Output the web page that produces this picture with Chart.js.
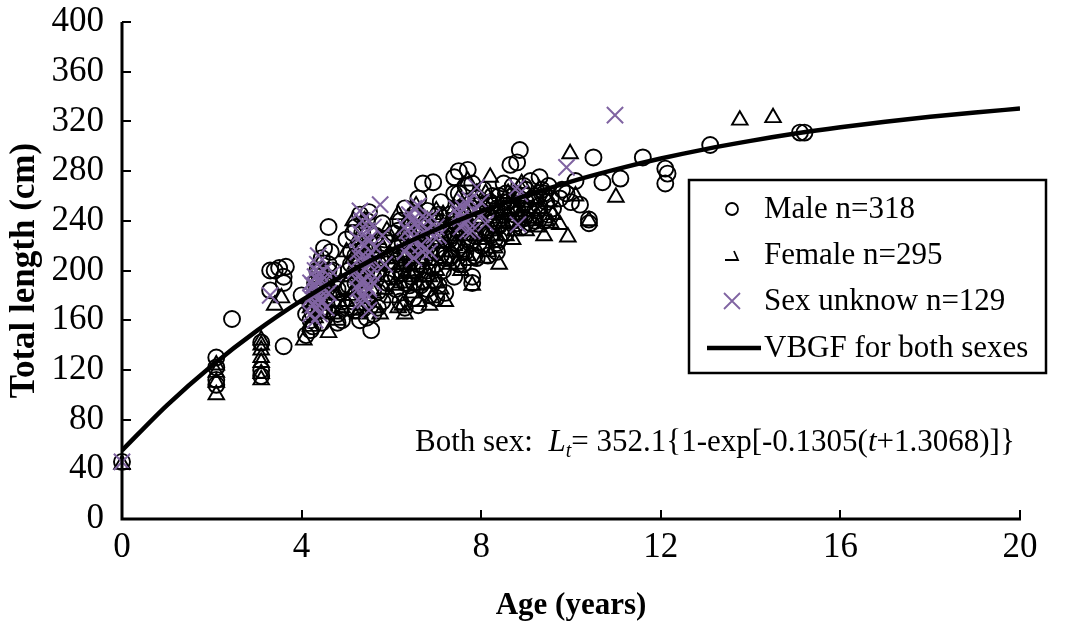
<!DOCTYPE html>
<html>
<head>
<meta charset="utf-8">
<script src="https://cdn.jsdelivr.net/npm/chart.js@4/dist/chart.umd.min.js"></script>
<style>
  html, body { margin: 0; padding: 0; background: #fff; }
  #wrap { width: 1068px; height: 634px; }
</style>
</head>
<body>
<div id="wrap"><canvas id="chart" width="1068" height="634"></canvas></div>
<script>
// values (age in years, total length in cm)
const maleAge = [
  0, 2.1, 2.1, 2.1, 2.1, 2.45, 3.1, 3.1, 3.1,
  3.3, 3.4, 3.5, 3.6, 3.6, 3.65, 3.3, 3.6,
  4.1, 4.2, 4.2, 4.25, 4.3, 4.3, 4.35, 4.4, 4.4, 4.45, 4.5, 4.6, 4.6, 4.6, 4.55, 4.7, 4.7, 4.8, 4.8, 4.9, 4.5, 4.5, 4.0, 4.1, 4.4, 4.65, 4.2,
  4.3, 4.4, 4.5, 4.6, 4.7, 4.8, 4.9, 4.25, 4.45, 4.35,
  5.0, 5.0, 5.05, 5.1, 5.1, 5.15, 5.2, 5.2, 5.25, 5.3, 5.3, 5.35, 5.4, 5.4, 5.45, 5.5, 5.5, 5.5, 5.55, 5.6, 5.6, 5.65, 5.7, 5.7, 5.75, 5.8, 5.85, 5.9, 5.9, 5.0, 5.2, 5.3, 5.6, 5.8,
  5.2, 5.25, 5.3, 5.35, 5.4, 5.45, 5.5, 5.55, 5.3, 5.4, 5.15, 5.6, 5.05, 5.45, 5.7,
  6.0, 6.0, 6.05, 6.1, 6.1, 6.15, 6.2, 6.2, 6.25, 6.3, 6.3, 6.35, 6.4, 6.4, 6.45, 6.5, 6.5, 6.55, 6.6, 6.6, 6.65, 6.7, 6.7, 6.75, 6.8, 6.8, 6.85, 6.9, 6.93, 7.0, 7.0, 7.05, 7.1, 7.1, 7.15, 7.2, 7.2, 6.3, 6.6, 7.0,
  6.1, 6.15, 6.2, 6.25, 6.3, 6.35, 6.4, 6.45, 6.5, 6.55, 6.6, 6.65, 6.7, 6.75, 6.8, 6.85, 6.9, 6.95, 7.0, 7.05, 7.1, 7.15, 6.2, 6.5, 6.8, 7.2,
  7.3, 7.3, 7.35, 7.4, 7.4, 7.45, 7.5, 7.5, 7.55, 7.6, 7.6, 7.65, 7.7, 7.7, 7.75, 7.8, 7.8, 7.85, 7.9, 7.9, 8.0, 8.0, 8.05, 8.1, 8.15, 8.2, 8.25, 8.3, 8.35, 8.35, 8.4, 8.4, 7.4,
  7.3, 7.35, 7.4, 7.45, 7.5, 7.55, 7.6, 7.65, 7.7, 7.75, 7.8, 7.85, 7.9, 7.95, 8.0, 8.05, 8.1, 8.15, 8.2, 8.25, 8.3, 8.35, 8.4, 7.5, 7.8,
  8.5, 8.5, 8.55, 8.6, 8.65, 8.7, 8.75, 8.8, 8.8, 8.86, 8.9, 8.95, 9.0, 9.0, 9.1, 9.1, 9.2, 9.25, 9.3, 9.35, 9.4, 9.45, 9.5, 9.6,
  8.5, 8.55, 8.6, 8.65, 8.7, 8.75, 8.8, 8.85, 8.9, 8.95, 9.0, 9.05, 9.15, 9.2, 9.3, 9.4, 9.5, 9.55,
  9.75, 9.8, 9.9, 10.0, 10.1, 10.2, 10.4, 10.4, 10.5, 10.7, 11.1, 11.6, 12.1, 12.15, 12.1, 13.1, 15.1, 15.2
];
const maleLen = [
  46, 130, 122, 112, 108, 161, 142, 120, 115,
  184, 200, 202, 195, 190, 203, 200, 139,
  148, 152, 160, 165, 170, 178, 185, 192, 200, 210, 218, 235, 205, 200, 195, 190, 172, 165, 158, 160, 175, 168, 180, 165, 182, 215, 172,
  190, 168, 190, 180, 200, 185, 175, 155, 158, 200,
  170, 185, 200, 205, 215, 175, 168, 190, 210, 222, 245, 230, 180, 195, 240, 247, 175, 205, 152, 185, 215, 228, 198, 170, 210, 238, 225, 190, 205, 225, 235, 160, 165, 175,
  212, 195, 205, 188, 218, 200, 232, 215, 183, 170, 230, 195, 188, 162, 183,
  195, 212, 230, 185, 205, 220, 240, 175, 198, 215, 250, 230, 188, 210, 225, 245, 178, 200, 258, 218, 235, 192, 270, 210, 228, 248, 180, 202, 271, 215, 240, 188, 225, 255, 200, 235, 182, 170, 172, 178,
  195, 232, 210, 222, 190, 205, 238, 195, 215, 230, 205, 188, 220, 238, 200, 215, 230, 192, 205, 245, 212, 228, 200, 190, 185, 210,
  210, 245, 228, 262, 195, 238, 280, 218, 250, 205, 232, 268, 281, 225, 245, 195, 190, 212, 258, 238, 220, 248, 265, 232, 212, 255, 242, 225, 215, 222, 260, 236, 275,
  225, 212, 240, 222, 205, 232, 245, 215, 235, 222, 250, 228, 210, 240, 232, 250, 218, 245, 228, 260, 240, 250, 225, 262, 270,
  245, 270, 230, 255, 285, 240, 262, 287, 250, 297, 235, 268, 245, 255, 272, 238, 260, 248, 275, 265, 240, 255, 268, 250,
  255, 262, 240, 250, 268, 245, 238, 258, 250, 242, 265, 250, 258, 240, 252, 262, 245, 258,
  258, 265, 262, 255, 272, 253, 241, 238, 291, 271, 274, 291, 282, 278, 270, 301, 311, 311
];

const femaleAge = [
  0, 2.1, 2.1, 2.1, 2.1, 3.1, 3.1, 3.1, 3.1, 3.1, 3.1, 3.1, 3.4, 3.55,
  4.05, 4.2, 4.3, 4.4, 4.5, 4.6, 4.6, 4.7, 4.4, 4.2, 4.8,
  4.3, 4.5, 4.6, 4.7, 4.8, 4.9,
  5.0, 5.1, 5.15, 5.2, 5.25, 5.3, 5.35, 5.4, 5.45, 5.5, 5.55, 5.6, 5.65, 5.7, 5.8, 5.85, 5.9, 5.0, 5.25,
  5.1, 5.2, 5.3, 5.4, 5.5, 5.6, 5.7, 5.8, 5.9, 5.35, 5.15, 5.75,
  6.0, 6.05, 6.1, 6.15, 6.2, 6.25, 6.3, 6.35, 6.4, 6.45, 6.5, 6.55, 6.6, 6.6, 6.7, 6.75, 6.8, 6.85, 6.9, 7.0, 7.0, 7.1, 7.15, 7.2, 6.3,
  6.05, 6.1, 6.2, 6.25, 6.3, 6.35, 6.4, 6.45, 6.5, 6.55, 6.6, 6.65, 6.7, 6.75, 6.8, 6.85, 6.9, 6.95, 7.0, 7.05, 7.1, 7.15, 7.2, 6.15, 6.9,
  7.3, 7.35, 7.4, 7.5, 7.55, 7.6, 7.7, 7.7, 7.8, 7.85, 7.9, 8.0, 8.05, 8.1, 8.2, 8.25, 8.3, 8.35, 8.4,
  7.3, 7.35, 7.4, 7.45, 7.5, 7.55, 7.6, 7.65, 7.7, 7.75, 7.8, 7.85, 7.9, 7.95, 8.0, 8.05, 8.1, 8.15, 8.2, 8.25, 8.3, 8.35, 8.4,
  8.5, 8.6, 8.7, 8.8, 8.9, 9.0, 9.1, 9.2, 9.3, 9.4, 9.5, 9.6, 9.75, 9.93, 9.98, 10.1, 10.4, 11.0, 13.76, 14.5,
  8.5, 8.55, 8.6, 8.65, 8.7, 8.75, 8.85, 8.95, 9.05, 9.15, 9.25, 9.35, 9.45, 9.55
];
const femaleLen = [
  44, 124, 118, 110, 100, 144, 140, 136, 130, 126, 117, 112, 172, 178,
  144, 155, 162, 175, 185, 150, 195, 165, 205, 170, 180,
  178, 172, 190, 182, 160, 170,
  175, 195, 210, 185, 225, 168, 200, 240, 215, 178, 192, 230, 170, 205, 218, 185, 232, 215, 165,
  180, 205, 218, 190, 208, 182, 225, 195, 210, 172, 240, 165,
  178, 205, 222, 245, 190, 172, 212, 235, 198, 182, 228, 252, 175, 210, 240, 195, 222, 172, 208, 248, 190, 230, 215, 175, 165,
  188, 212, 228, 205, 195, 220, 240, 210, 198, 222, 188, 232, 205, 218, 240, 195, 225, 212, 200, 238, 185, 245, 222, 170, 178,
  205, 240, 220, 258, 200, 235, 212, 272, 188, 250, 228, 242, 210, 262, 275, 232, 218, 248, 205,
  228, 215, 250, 205, 232, 245, 218, 228, 240, 208, 235, 220, 262, 238, 225, 255, 230, 215, 245, 255, 235, 228, 242,
  238, 262, 225, 250, 270, 232, 258, 242, 265, 228, 255, 245, 237, 227, 294, 260, 240, 259, 321, 323,
  250, 228, 245, 238, 258, 232, 245, 255, 240, 250, 235, 248, 240, 238
];

const unknownAge = [
  0, 3.3,
  4.2, 4.25, 4.25, 4.3, 4.3, 4.35, 4.35, 4.4, 4.4, 4.45, 4.3, 4.5, 4.37, 4.6, 4.55, 4.2, 4.7,
  4.25, 4.3, 4.35, 4.4, 4.45, 4.3, 4.2, 4.4, 4.5, 4.35,
  5.2, 5.25, 5.25, 5.3, 5.3, 5.35, 5.35, 5.4, 5.4, 5.41, 5.45, 5.5, 5.5, 5.55, 5.6, 5.6, 5.65, 5.75, 5.8, 5.85, 5.3, 5.5,
  5.25, 5.3, 5.35, 5.4, 5.45, 5.5, 5.55, 5.6, 5.3, 5.4, 5.25, 5.35, 5.5, 5.45,
  6.3, 6.35, 6.4, 6.45, 6.5, 6.55, 6.6, 6.65, 6.7, 6.75, 6.85, 6.9, 7.0, 7.05, 6.5,
  6.4, 6.5, 6.6, 6.7, 6.45, 6.55, 6.8, 6.95, 6.3,
  7.5, 7.55, 7.6, 7.7, 7.75, 7.8, 7.9, 8.0, 8.1, 8.8, 8.86, 8.82, 9.9, 10.98,
  7.55, 7.65, 7.7, 7.85, 7.6, 8.0, 7.45
];
const unknownLen = [
  46, 180,
  165, 172, 180, 188, 195, 170, 205, 178, 185, 192, 160, 200, 212, 182, 170, 190, 198,
  188, 175, 182, 198, 175, 200, 178, 165, 185, 192,
  200, 215, 185, 230, 175, 205, 240, 192, 220, 176, 210, 225, 185, 198, 235, 208, 218, 253, 228, 205, 248, 168,
  195, 210, 222, 200, 232, 205, 215, 190, 190, 182, 225, 180, 240, 188,
  215, 232, 245, 225, 210, 238, 252, 220, 230, 242, 215, 243, 235, 228, 250,
  220, 232, 240, 215, 240, 225, 232, 228, 235,
  245, 235, 250, 240, 257, 232, 267, 245, 238, 267, 262, 237, 283, 325,
  242, 255, 232, 248, 238, 255, 250
];

// VBGF curve
const curveAge = [0, 1, 2, 3, 4, 5, 6, 7, 8, 9, 10, 11, 12, 13, 14, 15, 16, 17, 18, 19, 20];
const curveLen = [55.2, 91.5, 123.4, 151.4, 175.9, 197.5, 216.4, 233.0, 247.6, 260.3, 271.6, 281.4, 290.1, 297.7, 304.3, 310.2, 315.3, 319.8, 323.8, 327.2, 330.3];

const xTicks = [0, 4, 8, 12, 16, 20];
const yTicks = [0, 40, 80, 120, 160, 200, 240, 280, 320, 360, 400];

const legendLabels = ['Male n=318', 'Female n=295', 'Sex unknow n=129', 'VBGF for both sexes'];

const PURPLE = '#8064a2';
const FONT = "'Liberation Serif', 'Times New Roman', serif";

const pts = (xs, ys) => xs.map((x, i) => ({ x: x, y: ys[i] }));

// axes with inward ticks, the boxed legend and the equation
const overlay = {
  id: 'overlay',
  afterDraw(chart) {
    const ctx = chart.ctx;
    const area = chart.chartArea;
    const xs = chart.scales.x, ys = chart.scales.y;
    ctx.save();
    ctx.strokeStyle = '#000';
    ctx.lineWidth = 3;
    ctx.lineCap = 'butt';
    ctx.beginPath();
    ctx.moveTo(area.left, area.top);
    ctx.lineTo(area.left, area.bottom);
    ctx.lineTo(area.right + 1, area.bottom);
    ctx.stroke();
    ctx.lineWidth = 2;
    yTicks.forEach(v => {
      const py = Math.round(ys.getPixelForValue(v));
      ctx.beginPath();
      ctx.moveTo(area.left, py);
      ctx.lineTo(area.left + 9, py);
      ctx.stroke();
    });
    xTicks.forEach(v => {
      if (v === 0) return;
      const px = Math.round(xs.getPixelForValue(v));
      ctx.beginPath();
      ctx.moveTo(px, area.bottom);
      ctx.lineTo(px, area.bottom - 9);
      ctx.stroke();
    });

    // legend box
    const bx = 689, by = 180, bw = 357, bh = 193;
    ctx.fillStyle = '#fff';
    ctx.fillRect(bx, by, bw, bh);
    ctx.lineWidth = 2.5;
    ctx.strokeRect(bx, by, bw, bh);
    const rowY = [209, 255, 301, 348];
    const mx = 732;
    ctx.lineWidth = 1.8;
    ctx.strokeStyle = '#000';
    ctx.beginPath();
    ctx.arc(mx, rowY[0], 6, 0, Math.PI * 2);
    ctx.stroke();
    ctx.beginPath();
    ctx.moveTo(mx - 7, rowY[1] + 5);
    ctx.lineTo(mx + 6, rowY[1] + 5);
    ctx.lineTo(mx + 2, rowY[1] - 4);
    ctx.stroke();
    ctx.strokeStyle = PURPLE;
    ctx.beginPath();
    ctx.moveTo(mx - 8, rowY[2] - 8);
    ctx.lineTo(mx + 8, rowY[2] + 8);
    ctx.moveTo(mx + 8, rowY[2] - 8);
    ctx.lineTo(mx - 8, rowY[2] + 8);
    ctx.stroke();
    ctx.strokeStyle = '#000';
    ctx.lineWidth = 4.5;
    ctx.beginPath();
    ctx.moveTo(707, rowY[3]);
    ctx.lineTo(761, rowY[3]);
    ctx.stroke();
    ctx.fillStyle = '#000';
    ctx.font = '31px ' + FONT;
    ctx.textBaseline = 'middle';
    ctx.textAlign = 'left';
    legendLabels.forEach((t, i) => ctx.fillText(t, 764, rowY[i] + 1));

    // equation
    const parts = [
      ['Both sex:  ', 'normal', 0],
      ['L', 'italic', 0],
      ['t', 'italic', 6],
      ['= 352.1{1-exp[-0.1305(', 'normal', 0],
      ['t', 'italic', 0],
      ['+1.3068)]}', 'normal', 0]
    ];
    let ex = 415;
    const ey = 451;
    ctx.textBaseline = 'alphabetic';
    parts.forEach(([s, st, sub]) => {
      ctx.font = (st === 'italic' ? 'italic ' : '') + (sub ? '20px ' : '31px ') + FONT;
      ctx.fillText(s, ex, ey + sub);
      ex += ctx.measureText(s).width;
    });
    ctx.restore();
  }
};

new Chart(document.getElementById('chart').getContext('2d'), {
  type: 'scatter',
  data: {
    datasets: [
      {
        label: legendLabels[3],
        data: pts(curveAge, curveLen),
        showLine: true,
        borderColor: '#000',
        borderWidth: 4.5,
        pointRadius: 0,
        cubicInterpolationMode: 'monotone',
        fill: false
      },
      {
        label: legendLabels[2],
        data: pts(unknownAge, unknownLen),
        pointStyle: 'crossRot',
        pointRadius: 11.5,
        borderColor: PURPLE,
        borderWidth: 2,
        clip: false
      },
      {
        label: legendLabels[1],
        data: pts(femaleAge, femaleLen),
        pointStyle: 'triangle',
        pointRadius: 9,
        borderColor: '#000',
        backgroundColor: 'rgba(0,0,0,0)',
        borderWidth: 1.9,
        clip: false
      },
      {
        label: legendLabels[0],
        data: pts(maleAge, maleLen),
        pointStyle: 'circle',
        pointRadius: 8,
        borderColor: '#000',
        backgroundColor: 'rgba(0,0,0,0)',
        borderWidth: 1.9,
        clip: false
      }
    ]
  },
  options: {
    responsive: false,
    animation: false,
    events: [],
    layout: { padding: { top: 22, right: 48, left: 0, bottom: 0 } },
    plugins: {
      legend: { display: false },
      tooltip: { enabled: false }
    },
    scales: {
      x: {
        type: 'linear',
        min: 0,
        max: 20,
        afterBuildTicks: s => { s.ticks = xTicks.map(v => ({ value: v })); },
        afterFit: s => { s.height = 115; s.paddingLeft = 0; s.paddingRight = 0; },
        grid: { display: false, drawTicks: false },
        border: { display: false },
        ticks: { color: '#000', padding: 8, font: { family: FONT, size: 35 } },
        title: {
          display: true,
          text: 'Age (years)',
          color: '#000',
          padding: { top: 0, bottom: 9 },
          font: { family: FONT, size: 31, weight: 'bold' }
        }
      },
      y: {
        type: 'linear',
        min: 0,
        max: 400,
        afterBuildTicks: s => { s.ticks = yTicks.map(v => ({ value: v })); },
        afterFit: s => { s.width = 122; s.paddingTop = 0; s.paddingBottom = 0; },
        grid: { display: false, drawTicks: false },
        border: { display: false },
        ticks: { color: '#000', padding: 18, font: { family: FONT, size: 35 } },
        title: {
          display: true,
          text: 'Total length (cm)',
          color: '#000',
          padding: { top: 4, bottom: 0 },
          font: { family: FONT, size: 35, weight: 'bold' }
        }
      }
    }
  },
  plugins: [overlay]
});
</script>
</body>
</html>
